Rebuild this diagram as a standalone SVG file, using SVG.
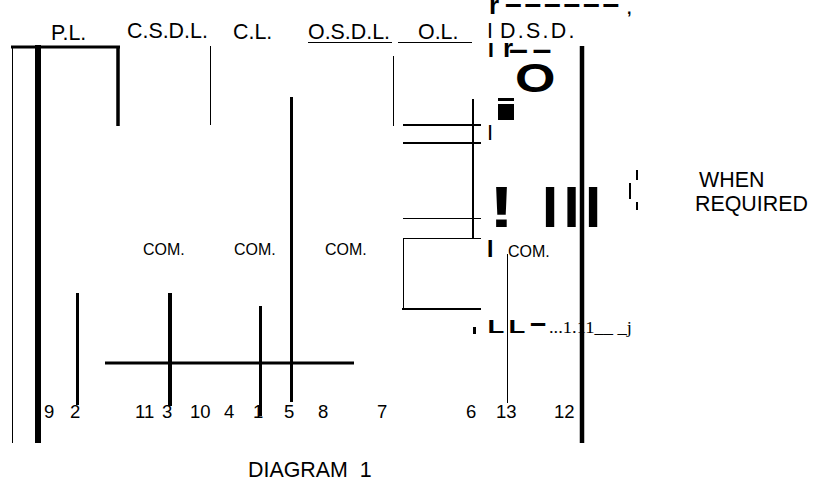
<svg xmlns="http://www.w3.org/2000/svg" width="813" height="479" viewBox="0 0 813 479">
<style>
text{font-family:"Liberation Sans",Arial,sans-serif;fill:#000}
.l{font-size:21.4px}
.c{font-size:16px}
.n{font-size:18.5px}
.b{font-weight:bold}
line{stroke:#000}
</style>
<rect width="813" height="479" fill="#fff"/>
<g id="connectors">
<line x1="11" y1="47" x2="120" y2="47" stroke-width="3"/>
<line x1="12.5" y1="47" x2="12.5" y2="443" stroke-width="1"/>
<line x1="38" y1="45" x2="38" y2="443" stroke-width="6"/>
<line x1="118" y1="47" x2="118" y2="126" stroke-width="3.5"/>
<line x1="210.5" y1="46" x2="210.5" y2="125" stroke-width="1"/>
<line x1="291.5" y1="97" x2="291.5" y2="402" stroke-width="3"/>
<line x1="393.5" y1="56" x2="393.5" y2="126" stroke-width="1"/>
<line x1="77.5" y1="293" x2="77.5" y2="405" stroke-width="3"/>
<line x1="170" y1="293" x2="170" y2="406" stroke-width="4"/>
<line x1="260.5" y1="306" x2="260.5" y2="416" stroke-width="3"/>
<line x1="105" y1="363" x2="354" y2="363" stroke-width="3"/>
<line x1="308" y1="42.5" x2="392" y2="42.5" stroke-width="1"/>
<line x1="398" y1="42.5" x2="472" y2="42.5" stroke-width="1"/>
<line x1="403" y1="125" x2="481" y2="125" stroke-width="2"/>
<line x1="473" y1="99" x2="473" y2="238" stroke-width="2"/>
<line x1="403" y1="143" x2="481" y2="143" stroke-width="2"/>
<line x1="403" y1="218.5" x2="481" y2="218.5" stroke-width="1"/>
<line x1="403" y1="238.5" x2="481" y2="238.5" stroke-width="1"/>
<line x1="403.5" y1="238" x2="403.5" y2="309" stroke-width="1"/>
<line x1="402" y1="309" x2="481" y2="309" stroke-width="2"/>
<line x1="507.5" y1="254" x2="507.5" y2="403" stroke-width="1"/>
<line x1="582" y1="46" x2="582" y2="443" stroke-width="4.5"/>
</g>
<g id="pl"><text class="l" x="51" y="40">P.L.</text></g>
<g id="csdl"><text class="l" x="127" y="38">C.S.D.L.</text></g>
<g id="cl"><text class="l" x="233" y="39">C.L.</text></g>
<g id="osdl"><text class="l" x="308" y="39">O.S.D.L.</text></g>
<g id="ol"><text class="l" x="418" y="39">O.L.</text></g>
<g id="dsd"><text class="l" x="487" y="38">I</text><text class="l" x="500" y="38" letter-spacing="2.3">D.S.D.</text></g>
<g id="glyphs">
<text class="b" x="489" y="14" font-size="26">r</text>
<text class="b" x="505" y="14" font-size="30" letter-spacing="2.8">––––––</text>
<text class="b" x="627" y="14" font-size="16">,</text>
<text class="b" x="488" y="57" font-size="21">I</text>
<text class="b" x="503" y="57" font-size="26">r</text>
<text class="b" x="509" y="60" font-size="34" letter-spacing="4.5">––</text>
<text class="b" transform="translate(515 92) scale(1.3 1)" font-size="40">O</text>
<rect x="498" y="98" width="16" height="3"/>
<rect x="498" y="104" width="16" height="16"/>
<text x="487" y="140" font-size="22">I</text>
<text class="b" transform="translate(489 227) scale(1.3 1)" font-size="58">!</text>
<text class="b" x="542" y="227" font-size="58" letter-spacing="5.4">III</text>
<text x="487" y="257" font-size="23" class="b">I</text>
<rect x="473" y="327" width="3" height="7"/>
<text class="b" transform="translate(487.5 333) scale(1.45 1)" font-size="19">L</text>
<text class="b" transform="translate(508.5 333) scale(1.45 1)" font-size="19">L</text>
<text class="b" x="530" y="333" font-size="29">–</text>
<text x="549" y="333" font-size="17" textLength="83" lengthAdjust="spacingAndGlyphs" style="font-family:'Liberation Serif',serif">...1.11__ _j</text>
<rect x="636" y="170" width="2" height="10"/>
<rect x="629" y="183" width="2" height="16"/>
<rect x="636" y="202" width="2" height="8"/>
</g>
<g id="when"><text class="l" x="699" y="187">WHEN</text><text class="l" x="695" y="211">REQUIRED</text></g>
<g id="com1"><text class="c" x="143" y="255">COM.</text></g>
<g id="com2"><text class="c" x="234" y="255">COM.</text></g>
<g id="com3"><text class="c" x="325" y="255">COM.</text></g>
<g id="com4"><text class="c" x="508" y="257">COM.</text></g>
<g id="numbers">
<text class="n" x="44" y="418">9</text>
<text class="n" x="70" y="418">2</text>
<text class="n" x="135" y="418">11</text>
<text class="n" x="162" y="418">3</text>
<text class="n" x="190" y="418">10</text>
<text class="n" x="224" y="418">4</text>
<text class="n" x="253" y="418">1</text>
<text class="n" x="284" y="418">5</text>
<text class="n" x="318" y="418">8</text>
<text class="n" x="377" y="418">7</text>
<text class="n" x="466" y="418">6</text>
<text class="n" x="496" y="418">13</text>
<text class="n" x="554" y="418">12</text>
</g>
<g id="title"><text class="l" x="248" y="477" xml:space="preserve">DIAGRAM  1</text></g>
</svg>
